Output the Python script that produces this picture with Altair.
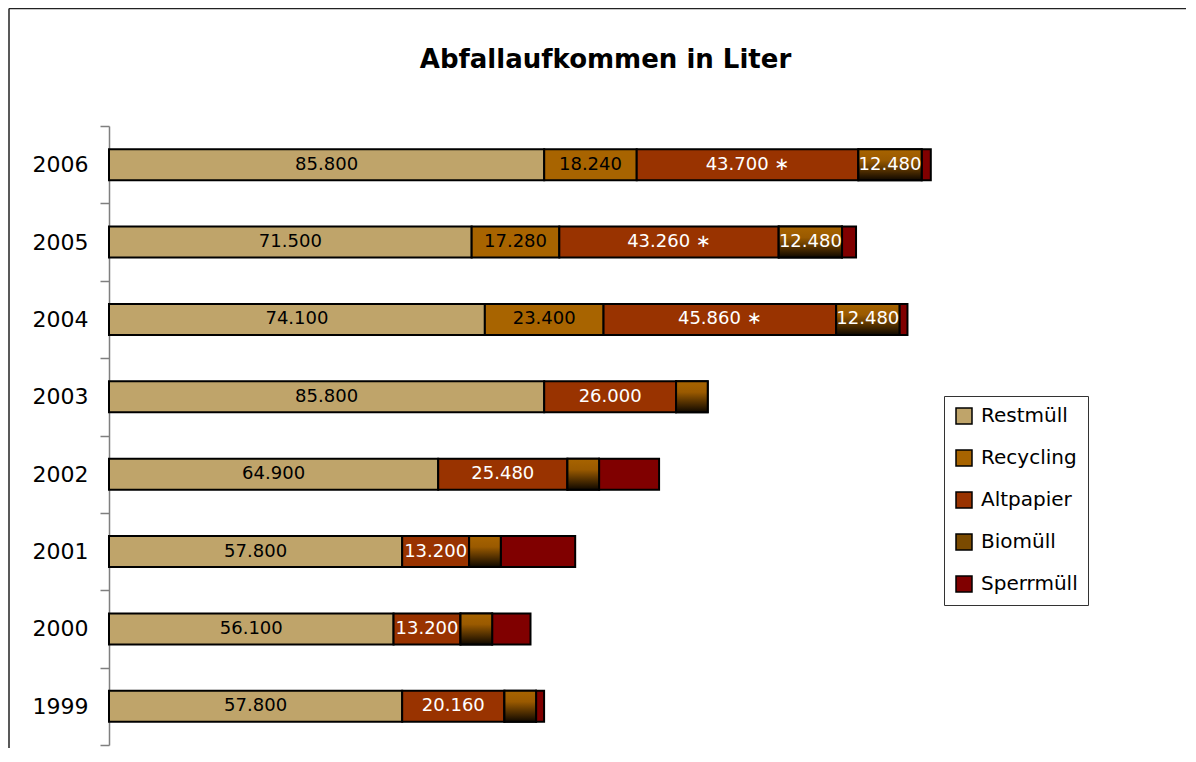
import altair as alt
import pandas as pd

years = ["1999", "2000", "2001", "2002", "2003", "2004", "2005", "2006"]
restmuell = [57800, 56100, 57800, 64900, 85800, 74100, 71500, 85800]
recycling = [0, 0, 0, 0, 0, 23400, 17280, 18240]
altpapier = [20160, 13200, 13200, 25480, 26000, 45860, 43260, 43700]
biomuell = [6240, 6240, 6240, 6240, 6240, 12480, 12480, 12480]
sperrmuell = [1580, 7560, 14670, 11830, 0, 1580, 2760, 1800]
altpapier_note = ["", "", "", "", "", " \u2217", " \u2217", " \u2217"]

categories = ["Restmüll", "Recycling", "Altpapier", "Biomüll", "Sperrmüll"]
colors = ["#BFA46A", "#A86400", "#993300", "#7A4A00", "#800000"]

series = [restmuell, recycling, altpapier, biomuell, sperrmuell]
rows = []
for ci, (cat, vals) in enumerate(zip(categories, series)):
    for yi, y in enumerate(years):
        rows.append({
            "year": y,
            "cat": cat,
            "value": vals[yi],
            "order": ci,
            "note": altpapier_note[yi] if cat == "Altpapier" else "",
        })
df = pd.DataFrame(rows)

FONT = "DejaVu Sans"

base = (
    alt.Chart(df)
    .transform_filter("datum.value > 0")
    .transform_stack(
        stack="value",
        groupby=["year"],
        as_=["x0", "x1"],
        sort=[alt.SortField("order", order="ascending")],
    )
)

Y = alt.Y(
    "year:N",
    sort="descending",
    scale=alt.Scale(paddingInner=0, paddingOuter=0),
    axis=alt.Axis(
        title=None,
        labelFont=FONT,
        labelFontSize=22,
        labelColor="black",
        tickBand="extent",
        tickSize=9,
        tickColor="#7f7f7f",
        tickWidth=1.5,
        domainColor="#7f7f7f",
        domainWidth=1.5,
        labelPadding=12,
        grid=False,
    ),
)
X = alt.X("x0:Q", scale=alt.Scale(domain=[0, 180000]), axis=None)

bars = base.mark_bar(size=31, stroke="black", strokeWidth=2).encode(
    x=X,
    x2="x1:Q",
    y=Y,
    color=alt.Color(
        "cat:N",
        scale=alt.Scale(domain=categories, range=colors),
        legend=alt.Legend(
            title=None,
            orient="none",
            legendX=835,
            legendY=270,
            symbolType="square",
            symbolSize=256,
            symbolStrokeColor="black",
            symbolStrokeWidth=1.5,
            labelFont=FONT,
            labelFontSize=20,
            labelColor="black",
            labelOffset=7,
            padding=10,
            rowPadding=20,
            strokeColor="#333333",
            fillColor="white",
        ),
    ),
)

gradient = alt.LinearGradient(
    gradient="linear",
    stops=[
        alt.GradientStop(color="#A86400", offset=0),
        alt.GradientStop(color="#9A5A00", offset=0.35),
        alt.GradientStop(color="#0F0800", offset=1),
    ],
    x1=0, x2=0, y1=0, y2=1,
)

bio = (
    base.transform_filter("datum.cat == 'Biomüll'")
    .mark_bar(size=31, stroke="black", strokeWidth=2, color=gradient)
    .encode(x=X, x2="x1:Q", y=Y)
)

labels = (
    base.transform_filter("datum.value >= 10000 && datum.cat != 'Sperrmüll'")
    .transform_calculate(
        mid="(datum.x0 + datum.x1) / 2",
        lbl="replace(format(datum.value, ','), ',', '.') + datum.note",
        tc="(datum.cat == 'Restmüll' || datum.cat == 'Recycling') ? 'black' : 'white'",
    )
    .mark_text(font=FONT, fontSize=18, baseline="middle", align="center")
    .encode(
        x=alt.X("mid:Q", scale=alt.Scale(domain=[0, 180000]), axis=None),
        y=Y,
        text="lbl:N",
        color=alt.Color("tc:N", scale=None),
    )
)

frame_df = pd.DataFrame({"f": [0]})
frame_top = (
    alt.Chart(frame_df)
    .mark_rule(stroke="#222222", strokeWidth=1.5)
    .encode(x=alt.value(-100), x2=alt.value(2000), y=alt.value(-117.5))
)
frame_left = (
    alt.Chart(frame_df)
    .mark_rule(stroke="#222222", strokeWidth=1.5)
    .encode(x=alt.value(-100), y=alt.value(-117.5), y2=alt.value(2000))
)

chart = (
    alt.layer(frame_top, frame_left, bars, bio, labels)
    .properties(
        width=913,
        height=619,
        background="white",
        title=alt.TitleParams(
            "Abfallaufkommen in Liter",
            font=FONT,
            fontSize=26,
            fontWeight="bold",
            color="black",
            anchor="middle",
            frame="group",
            baseline="alphabetic",
            offset=-86,
            dx=40,
        ),
        autosize=alt.AutoSizeParams(type="none"),
        padding={"left": 101, "top": 118, "right": 164, "bottom": 3},
    )
    .configure_view(strokeWidth=0, stroke="transparent")
)

chart.save("out.html", embed_options={"renderer": "svg", "actions": False})
